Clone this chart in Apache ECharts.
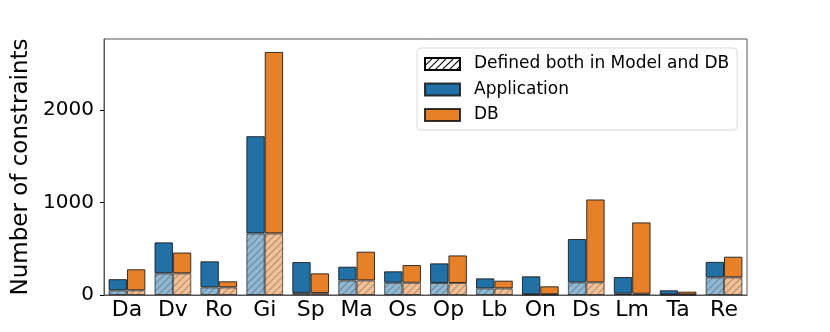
<!DOCTYPE html>
<html>
<head>
<meta charset="utf-8">
<script src="https://cdn.jsdelivr.net/npm/echarts@6/dist/echarts.min.js"></script>
<style>
  html, body { margin: 0; padding: 0; background: #fff; }
  #chart { width: 830px; height: 332px; }
</style>
</head>
<body>
<div id="chart"></div>
<script>
var categories = ['Da', 'Dv', 'Ro', 'Gi', 'Sp', 'Ma', 'Os', 'Op', 'Lb', 'On', 'Ds', 'Lm', 'Ta', 'Re'];
// total constraints per project
var appTotal = [171, 569, 364, 1717, 356, 306, 256, 342, 180, 202, 605, 194, 51, 358];
var dbTotal  = [278, 459, 148, 2628, 234, 468, 324, 428, 155, 94, 1033, 785, 36, 414];
// part defined both in model and DB (hatched)
var both     = [51, 234, 83, 666, 22, 158, 133, 130, 72, 7, 137, 14, 5, 191];
var yTicks = [0, 1000, 2000];

var appRest = appTotal.map(function (v, i) { return v - both[i]; });
var dbRest = dbTotal.map(function (v, i) { return v - both[i]; });

var font = 'DejaVu Sans';
var blue = '#2271a6';
var orange = '#e6812a';

function hatch(color) {
  return {
    symbol: 'rect',
    symbolSize: 1,
    dashArrayX: [1, 0],
    dashArrayY: [1, 4],
    rotation: -Math.PI / 4,
    color: color
  };
}

var myChart = echarts.init(document.getElementById('chart'), null, { renderer: 'canvas' });

var option = {
  animation: false,
  textStyle: { fontFamily: font },
  grid: {
    left: 104, right: 83, top: 39, bottom: 37,
    show: true, borderColor: '#555', borderWidth: 1
  },
  legend: {
    data: ['Defined both in Model and DB', 'Application', 'DB'],
    orient: 'vertical',
    icon: 'rect',
    left: 417, top: 48,
    padding: [7, 8, 6, 7],
    itemGap: 7.5,
    itemWidth: 35,
    itemHeight: 12,
    borderColor: '#d9d9d9',
    borderWidth: 1,
    borderRadius: 4,
    backgroundColor: 'rgba(255,255,255,0.8)',
    textStyle: { fontSize: 17, color: '#000', lineHeight: 18, padding: [0, 0, 0, 9], fontFamily: font }
  },
  xAxis: {
    type: 'category',
    data: categories,
    axisLine: { lineStyle: { color: '#555' } },
    axisTick: { show: false },
    axisLabel: { color: '#000', fontSize: 22, margin: 4, fontFamily: font },
    splitLine: { show: false }
  },
  yAxis: {
    type: 'value',
    min: 0, max: 2768, interval: 1000,
    name: 'Number of constraints',
    nameLocation: 'middle',
    nameGap: 52,
    nameTextStyle: { fontSize: 23, color: '#000', fontFamily: font },
    axisLine: { show: true, lineStyle: { color: '#555' } },
    axisTick: { show: true, length: 4, lineStyle: { color: '#000' } },
    axisLabel: {
      color: '#000', fontSize: 20, margin: 10, fontFamily: font, showMaxLabel: false,
      formatter: function (v) { return yTicks.indexOf(v) >= 0 ? String(v) : ''; }
    },
    splitLine: { show: false }
  },
  series: [
    {
      name: 'App both', type: 'bar', stack: 'app', barWidth: '40%', barGap: '0%',
      data: both,
      itemStyle: { color: 'rgba(34,113,166,0.5)', borderColor: 'rgba(0,0,0,0.35)', borderWidth: 1, decal: hatch('rgba(40,40,40,0.35)') }
    },
    {
      name: 'Application', type: 'bar', stack: 'app', barWidth: '40%', barGap: '0%',
      data: appRest,
      itemStyle: { color: blue, borderColor: 'rgba(20,20,20,0.85)', borderWidth: 1 }
    },
    {
      name: 'Defined both in Model and DB', type: 'bar', stack: 'app', barWidth: '40%', barGap: '0%',
      data: [],
      itemStyle: { color: '#fff', borderColor: '#000', borderWidth: 1, decal: hatch('#000') }
    },
    {
      name: 'DB both', type: 'bar', stack: 'db', barWidth: '40%', barGap: '0%',
      data: both,
      itemStyle: { color: 'rgba(230,129,42,0.5)', borderColor: 'rgba(0,0,0,0.35)', borderWidth: 1, decal: hatch('rgba(40,40,40,0.35)') }
    },
    {
      name: 'DB', type: 'bar', stack: 'db', barWidth: '40%', barGap: '0%',
      data: dbRest,
      itemStyle: { color: orange, borderColor: 'rgba(20,20,20,0.85)', borderWidth: 1 }
    }
  ]
};

myChart.setOption(option);
</script>
</body>
</html>
